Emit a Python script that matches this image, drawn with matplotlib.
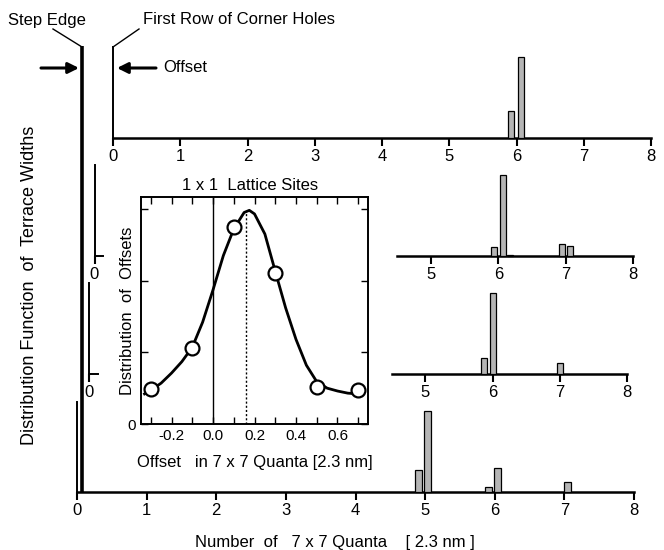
import matplotlib
matplotlib.use("Agg")
import matplotlib.pyplot as plt

plt.rcParams['font.family'] = ['Liberation Sans', 'DejaVu Sans']

# ---------------- data ----------------
ticks_main = [0, 1, 2, 3, 4, 5, 6, 7, 8]
ticks_mid = [0, 5, 6, 7, 8]

# panel 1 (top)
p1_x = [5.92, 6.06]
p1_h = [30, 90]
# panel 2
p2_x = [5.94, 6.07, 6.17, 6.95, 7.07]
p2_h = [10, 90, 1, 13, 11]
# panel 3
p3_x = [5.87, 6.01, 7.01]
p3_h = [18, 90, 12]
# bottom panel
p4_x = [4.90, 5.03, 5.91, 6.04, 7.04]
p4_h = [25, 90, 6, 27, 11]

# inset: offsets
off_x = [-0.3, -0.1, 0.1, 0.3, 0.5, 0.7]
off_y = [0.49, 1.06, 2.75, 2.11, 0.52, 0.47]
fit_x = [-0.33, -0.30, -0.25, -0.20, -0.15, -0.10, -0.05, 0.00, 0.05, 0.10,
         0.15, 0.175, 0.20, 0.25, 0.30, 0.35, 0.40, 0.45, 0.50, 0.55,
         0.60, 0.65, 0.70]
fit_y = [0.42, 0.47, 0.57, 0.71, 0.87, 1.07, 1.42, 1.87, 2.35, 2.72,
         2.95, 2.98, 2.93, 2.65, 2.13, 1.62, 1.18, 0.82, 0.59, 0.50,
         0.46, 0.43, 0.42]
peak_x = 0.16
peak_y = 2.97
inset_xticks = [-0.2, 0.0, 0.2, 0.4, 0.6]
inset_xticklabels = ['-0.2', '0.0', '0.2', '0.4', '0.6']

W, H = 664, 550
fig = plt.figure(figsize=(W / 100, H / 100), dpi=100)
fig.patch.set_facecolor('white')


def rect(x0, x8, y_axis, y_top):
    return [x0 / W, 1 - y_axis / H, (x8 - x0) / W, (y_axis - y_top) / H]


PXU = 0.9  # pixels per data unit (vertical)
BAR_FC = '#b5b5b5'
TFS = 12


def panel(x0, x8, y_axis, y_top, bx, bh, ticks, broken=False, width=0.09):
    ax = fig.add_axes(rect(x0, x8, y_axis, y_top))
    ax.patch.set_alpha(0)
    ax.set_xlim(0, 8)
    ax.set_ylim(0, (y_axis - y_top) / PXU)
    for s in ['top', 'right']:
        ax.spines[s].set_visible(False)
    ax.spines['bottom'].set_linewidth(1.8)
    ax.spines['left'].set_linewidth(1.4)
    ax.set_yticks([])
    ax.set_xticks(ticks)
    ax.set_xticklabels([str(t) for t in ticks], fontsize=TFS)
    ax.tick_params(axis='x', direction='out', length=6, width=1.5, pad=2)
    if broken:
        ax.spines['bottom'].set_bounds(4.5, 8)
        ax.plot([0, 0.13], [0, 0], color='black', lw=1.4, clip_on=False)
    ax.bar(bx, bh, width=width, color=BAR_FC, edgecolor='black',
           linewidth=0.9, clip_on=False, zorder=3)
    return ax


panel(113, 651, 138, 47, p1_x, p1_h, ticks_main)
panel(94.5, 633, 256, 165, p2_x, p2_h, ticks_mid, broken=True)
panel(89, 627, 374, 283, p3_x, p3_h, ticks_mid, broken=True)
panel(77, 634, 492, 402, p4_x, p4_h, ticks_main, width=0.1)

# ---------------- inset ----------------
ai = fig.add_axes([141 / W, 1 - 424 / H, 227 / W, 227 / H])
ai.set_xlim(-0.347, 0.747)
ai.set_ylim(0, 3.166)
ai.plot(fit_x, fit_y, color='black', lw=2.0, zorder=3)
ai.plot(off_x, off_y, 'o', mfc='white', mec='black', ms=10, mew=1.6, zorder=4)
ai.axvline(0, color='black', lw=1.0)
ai.plot([peak_x, peak_x], [0, peak_y], color='black', lw=1.0, ls=(0, (1.5, 1.5)))
ai.set_xticks(inset_xticks)
ai.set_xticklabels(inset_xticklabels, fontsize=11)
ai.set_xticks([-0.3, -0.1, 0.1, 0.3, 0.5, 0.7], minor=True)
ai.set_yticks([0, 1, 2, 3])
ai.set_yticklabels(['0', '', '', ''], fontsize=11)
ai.tick_params(which='both', direction='in', top=True, right=True,
               length=5, width=1.0)
for s in ai.spines.values():
    s.set_linewidth(1.4)

# ---------------- overlay (pixel coordinates) ----------------
ov = fig.add_axes([0, 0, 1, 1])
ov.set_xlim(0, W)
ov.set_ylim(H, 0)
ov.axis('off')
ov.patch.set_alpha(0)

# step edge line
ov.plot([82, 82], [46, 493], color='black', lw=2.6, solid_capstyle='butt')
# annotation leader lines
ov.plot([53, 82], [29, 47], color='black', lw=1.0)
ov.plot([139, 113], [29, 47], color='black', lw=1.0)
ov.text(8, 20, 'Step Edge', fontsize=12, ha='left', va='center')
ov.text(143, 20, 'First Row of Corner Holes', fontsize=12, ha='left', va='center')
# arrows
ov.annotate('', xy=(79, 68), xytext=(41, 68),
            arrowprops=dict(arrowstyle='-|>', lw=2.2, color='black',
                            mutation_scale=16, shrinkA=0, shrinkB=0))
ov.annotate('', xy=(117, 68), xytext=(156, 68),
            arrowprops=dict(arrowstyle='-|>', lw=2.2, color='black',
                            mutation_scale=16, shrinkA=0, shrinkB=0))
ov.text(163, 68, 'Offset', fontsize=12, ha='left', va='center')

# labels
ov.text(30, 285, 'Distribution Function  of  Terrace Widths', fontsize=13,
        rotation=90, ha='center', va='center')
ov.text(335, 543, 'Number  of   7 x 7 Quanta    [ 2.3 nm ]', fontsize=12,
        ha='center', va='center')
ov.text(250, 186, '1 x 1  Lattice Sites', fontsize=12, ha='center', va='center')
ov.text(127, 311, 'Distribution  of  Offsets', fontsize=12, rotation=90,
        ha='center', va='center')
ov.text(255, 462, 'Offset   in 7 x 7 Quanta [2.3 nm]', fontsize=12,
        ha='center', va='center')

fig.savefig('out.png', dpi=100)
